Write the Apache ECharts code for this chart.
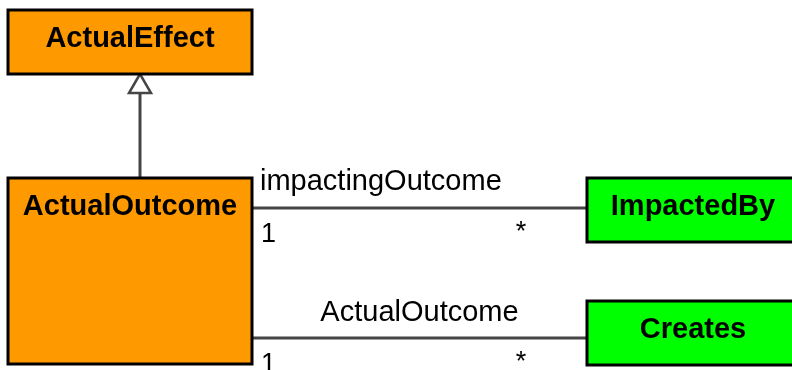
<!DOCTYPE html>
<html><head><meta charset="utf-8">
<script src="https://cdn.jsdelivr.net/npm/echarts@6/dist/echarts.min.js"></script>
<style>html,body{margin:0;padding:0;background:#fff}#c{width:792px;height:370px}</style>
</head><body><div id="c"></div>
<script>
// Classes (UML diagram)
const classNames = ['ActualEffect', 'ActualOutcome', 'ImpactedBy', 'Creates'];
const classKind = ['abstract', 'abstract', 'relation', 'relation'];
// box extents in diagram units
const classLeft = [8, 8, 587, 587];
const classTop = [10, 178, 178, 301];
const classRight = [252, 252, 797, 797];
const classBottom = [74, 364, 242, 365];
// generalization: child -> parent
const genChild = [1];
const genParent = [0];
const genX = [140];
// associations
const assocSource = [1, 1];
const assocTarget = [2, 3];
const assocY = [208, 338];
const assocRole = ['impactingOutcome', 'ActualOutcome'];
const assocSourceMult = ['1', '1'];
const assocTargetMult = ['*', '*'];

const FONT = '"Liberation Sans", Arial, sans-serif';
const fillFor = {abstract: '#FF9900', relation: '#00FF00'};

const chart = echarts.init(document.getElementById('c'), null, {renderer: 'canvas'});

const classData = classNames.map((n, i) => [classLeft[i], classTop[i], classRight[i], classBottom[i], i]);
const genData = genChild.map((c, i) => [genX[i], classTop[c], classBottom[genParent[i]], i]);
const assocData = assocRole.map((r, i) => [classRight[assocSource[i]], classLeft[assocTarget[i]], assocY[i], i]);

chart.setOption({
  animation: false,
  grid: {left: 0, right: 0, top: 0, bottom: 0},
  xAxis: {type: 'value', min: 0, max: 792, show: false},
  yAxis: {type: 'value', min: 0, max: 370, inverse: true, show: false},
  series: [
    {
      type: 'custom', coordinateSystem: 'cartesian2d', data: assocData, z: 1,
      renderItem: function (params, api) {
        const x0 = api.value(0), x1 = api.value(1), y = api.value(2), i = api.value(3);
        const p0 = api.coord([x0, y]), p1 = api.coord([x1, y]);
        const children = [
          {type: 'line', shape: {x1: p0[0], y1: p0[1], x2: p1[0], y2: p1[1]}, style: {stroke: '#454545', lineWidth: 3}},
        ];
        const role = assocRole[i];
        if (i === 0) {
          const p = api.coord([x0 + 8, y - 26.5]);
          children.push({type: 'text', x: p[0], y: p[1], style: {text: role, font: '29px ' + FONT, fill: '#000', align: 'left', verticalAlign: 'middle'}});
        } else {
          const p = api.coord([(x0 + x1) / 2, y - 25]);
          children.push({type: 'text', x: p[0], y: p[1], style: {text: role, font: '29px ' + FONT, fill: '#000', align: 'center', verticalAlign: 'middle'}});
        }
        const ps = api.coord([x0 + 9, y + 27]);
        children.push({type: 'text', x: ps[0], y: ps[1], style: {text: assocSourceMult[i], font: '27px ' + FONT, fill: '#000', align: 'left', verticalAlign: 'middle'}});
        const pt = api.coord([x1 - 66, y + 25]);
        children.push({type: 'text', x: pt[0], y: pt[1], style: {text: assocTargetMult[i], font: '27px ' + FONT, fill: '#000', align: 'center', verticalAlign: 'middle'}});
        return {type: 'group', children: children};
      }
    },
    {
      type: 'custom', coordinateSystem: 'cartesian2d', data: genData, z: 2,
      renderItem: function (params, api) {
        const x = api.value(0), yc = api.value(1), yp = api.value(2);
        const tip = api.coord([x, yp]);
        const base = api.coord([x, yp + 19]);
        const end = api.coord([x, yc]);
        return {type: 'group', children: [
          {type: 'line', shape: {x1: base[0], y1: base[1], x2: end[0], y2: end[1]}, style: {stroke: '#454545', lineWidth: 3}},
          {type: 'polygon', shape: {points: [[tip[0], tip[1]], [tip[0] - 11, base[1]], [tip[0] + 11, base[1]]]}, style: {fill: '#fff', stroke: '#454545', lineWidth: 2.5}}
        ]};
      }
    },
    {
      type: 'custom', coordinateSystem: 'cartesian2d', data: classData, z: 3,
      renderItem: function (params, api) {
        const i = api.value(4);
        const a = api.coord([api.value(0), api.value(1)]);
        const b = api.coord([api.value(2), api.value(3)]);
        const cx = i >= 2 ? a[0] + 106 : (a[0] + b[0]) / 2;
        return {type: 'group', children: [
          {type: 'rect', shape: {x: a[0], y: a[1], width: b[0] - a[0], height: b[1] - a[1]}, style: {fill: fillFor[classKind[i]], stroke: '#000', lineWidth: 3}},
          {type: 'text', x: cx, y: a[1] + 28.5, style: {text: classNames[i], font: 'bold 29px ' + FONT, fill: '#000', align: 'center', verticalAlign: 'middle'}}
        ]};
      }
    }
  ]
});
</script></body></html>
